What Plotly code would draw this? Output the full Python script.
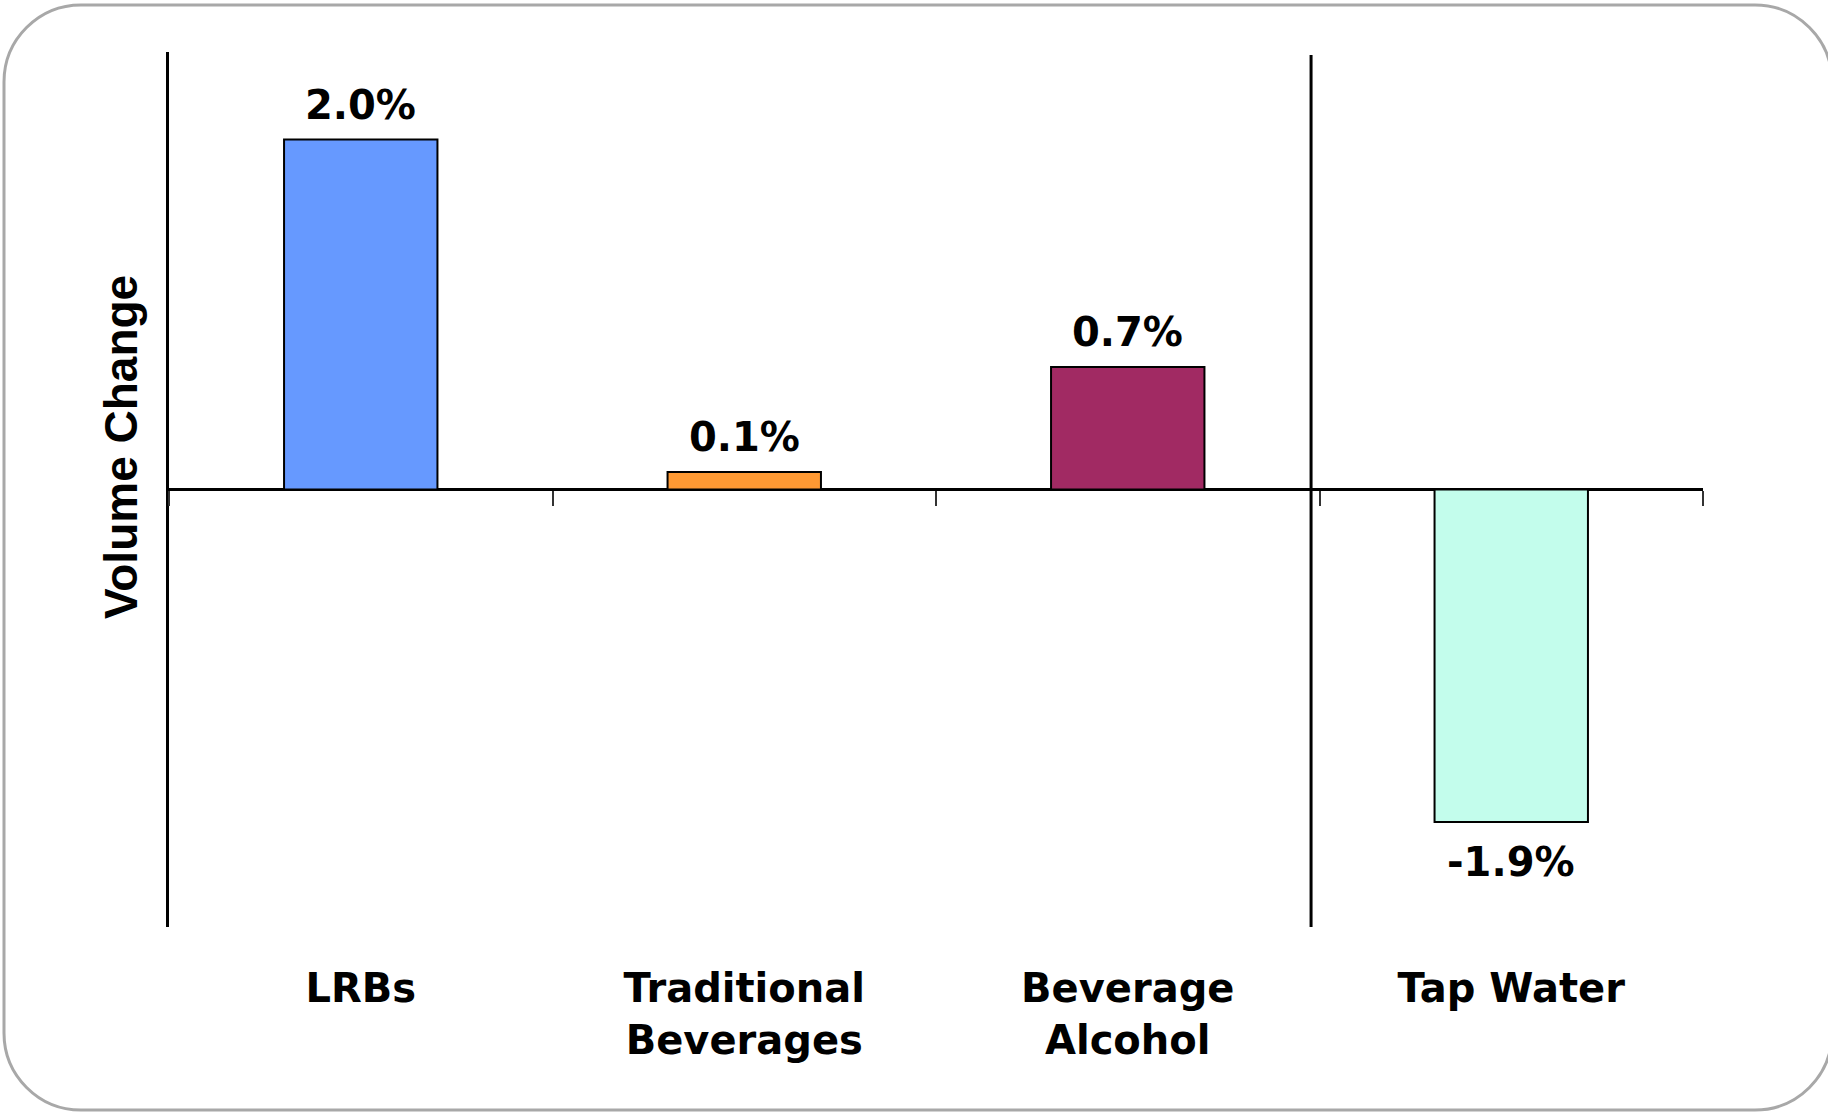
import plotly.graph_objects as go

categories = ["LRBs", "Traditional<br>Beverages", "Beverage<br>Alcohol", "Tap Water"]
values = [2.0, 0.1, 0.7, -1.9]
labels = ["2.0%", "0.1%", "0.7%", "-1.9%"]
colors = ["#6699FF", "#FF9933", "#A12A63", "#C3FDEC"]

W, H = 1828, 1112
L, R, T, B = 169, 125, 52, 185
PW, PH = W - L - R, H - T - B


def px(x):
    return (x - L) / PW


def py(y):
    return (H - B - y) / PH


fig = go.Figure()
fig.add_trace(go.Bar(
    x=categories, y=values, width=0.4,
    marker=dict(color=colors, line=dict(color="black", width=2)),
    hoverinfo="skip",
))

label_font = dict(family="DejaVu Sans", size=40, color="black", weight="bold")
annotations = []
for c, v, t in zip(categories, values, labels):
    annotations.append(dict(
        x=c, y=v, xref="x", yref="y", text=t, showarrow=False,
        yanchor="bottom" if v >= 0 else "top",
        yshift=10 if v >= 0 else -15,
        font=label_font,
    ))

annotations.append(dict(
    x=px(121), y=py(447), xref="paper", yref="paper", text="Volume Change",
    textangle=-90, showarrow=False, xanchor="center", yanchor="middle",
    font=dict(family="Liberation Sans, Arial", size=46, color="black", weight="bold"),
))

# rounded border
x0, x1, y0, y1, r = 4, 1832, 5, 1110, 77
k = 0.5523 * r
pts = [
    ("M", [(x0 + r, y0)]),
    ("L", [(x1 - r, y0)]),
    ("C", [(x1 - r + k, y0), (x1, y0 + r - k), (x1, y0 + r)]),
    ("L", [(x1, y1 - r)]),
    ("C", [(x1, y1 - r + k), (x1 - r + k, y1), (x1 - r, y1)]),
    ("L", [(x0 + r, y1)]),
    ("C", [(x0 + r - k, y1), (x0, y1 - r + k), (x0, y1 - r)]),
    ("L", [(x0, y0 + r)]),
    ("C", [(x0, y0 + r - k), (x0 + r - k, y0), (x0 + r, y0)]),
]
path = " ".join(cmd + " " + " ".join(f"{px(a):.5f},{py(b):.5f}" for a, b in p) for cmd, p in pts) + " Z"

shapes = [
    dict(type="path", path=path, xref="paper", yref="paper",
         line=dict(color="#A8A8A8", width=3), layer="below"),
    dict(type="line", xref="x", yref="paper", x0=2.478, x1=2.478, y0=0, y1=py(55),
         line=dict(color="black", width=3)),
]

fig.update_layout(
    width=W, height=H,
    margin=dict(l=L, r=R, t=T, b=B),
    paper_bgcolor="white", plot_bgcolor="white",
    showlegend=False,
    annotations=annotations,
    shapes=shapes,
    xaxis=dict(
        type="category", anchor="free", position=0.5,
        showline=False, showgrid=False, zeroline=False,
        ticks="outside", tickson="boundaries", ticklen=15, tickwidth=2,
        tickcolor="#333", tickfont=label_font, ticklabelstandoff=471,
        range=[-0.5, 3.5],
    ),
    yaxis=dict(
        range=[-2.5, 2.5], showticklabels=False, ticks="", showgrid=False,
        showline=True, linecolor="black", linewidth=3,
        zeroline=True, zerolinecolor="black", zerolinewidth=3,
    ),
)

fig.write_html("out.html")
